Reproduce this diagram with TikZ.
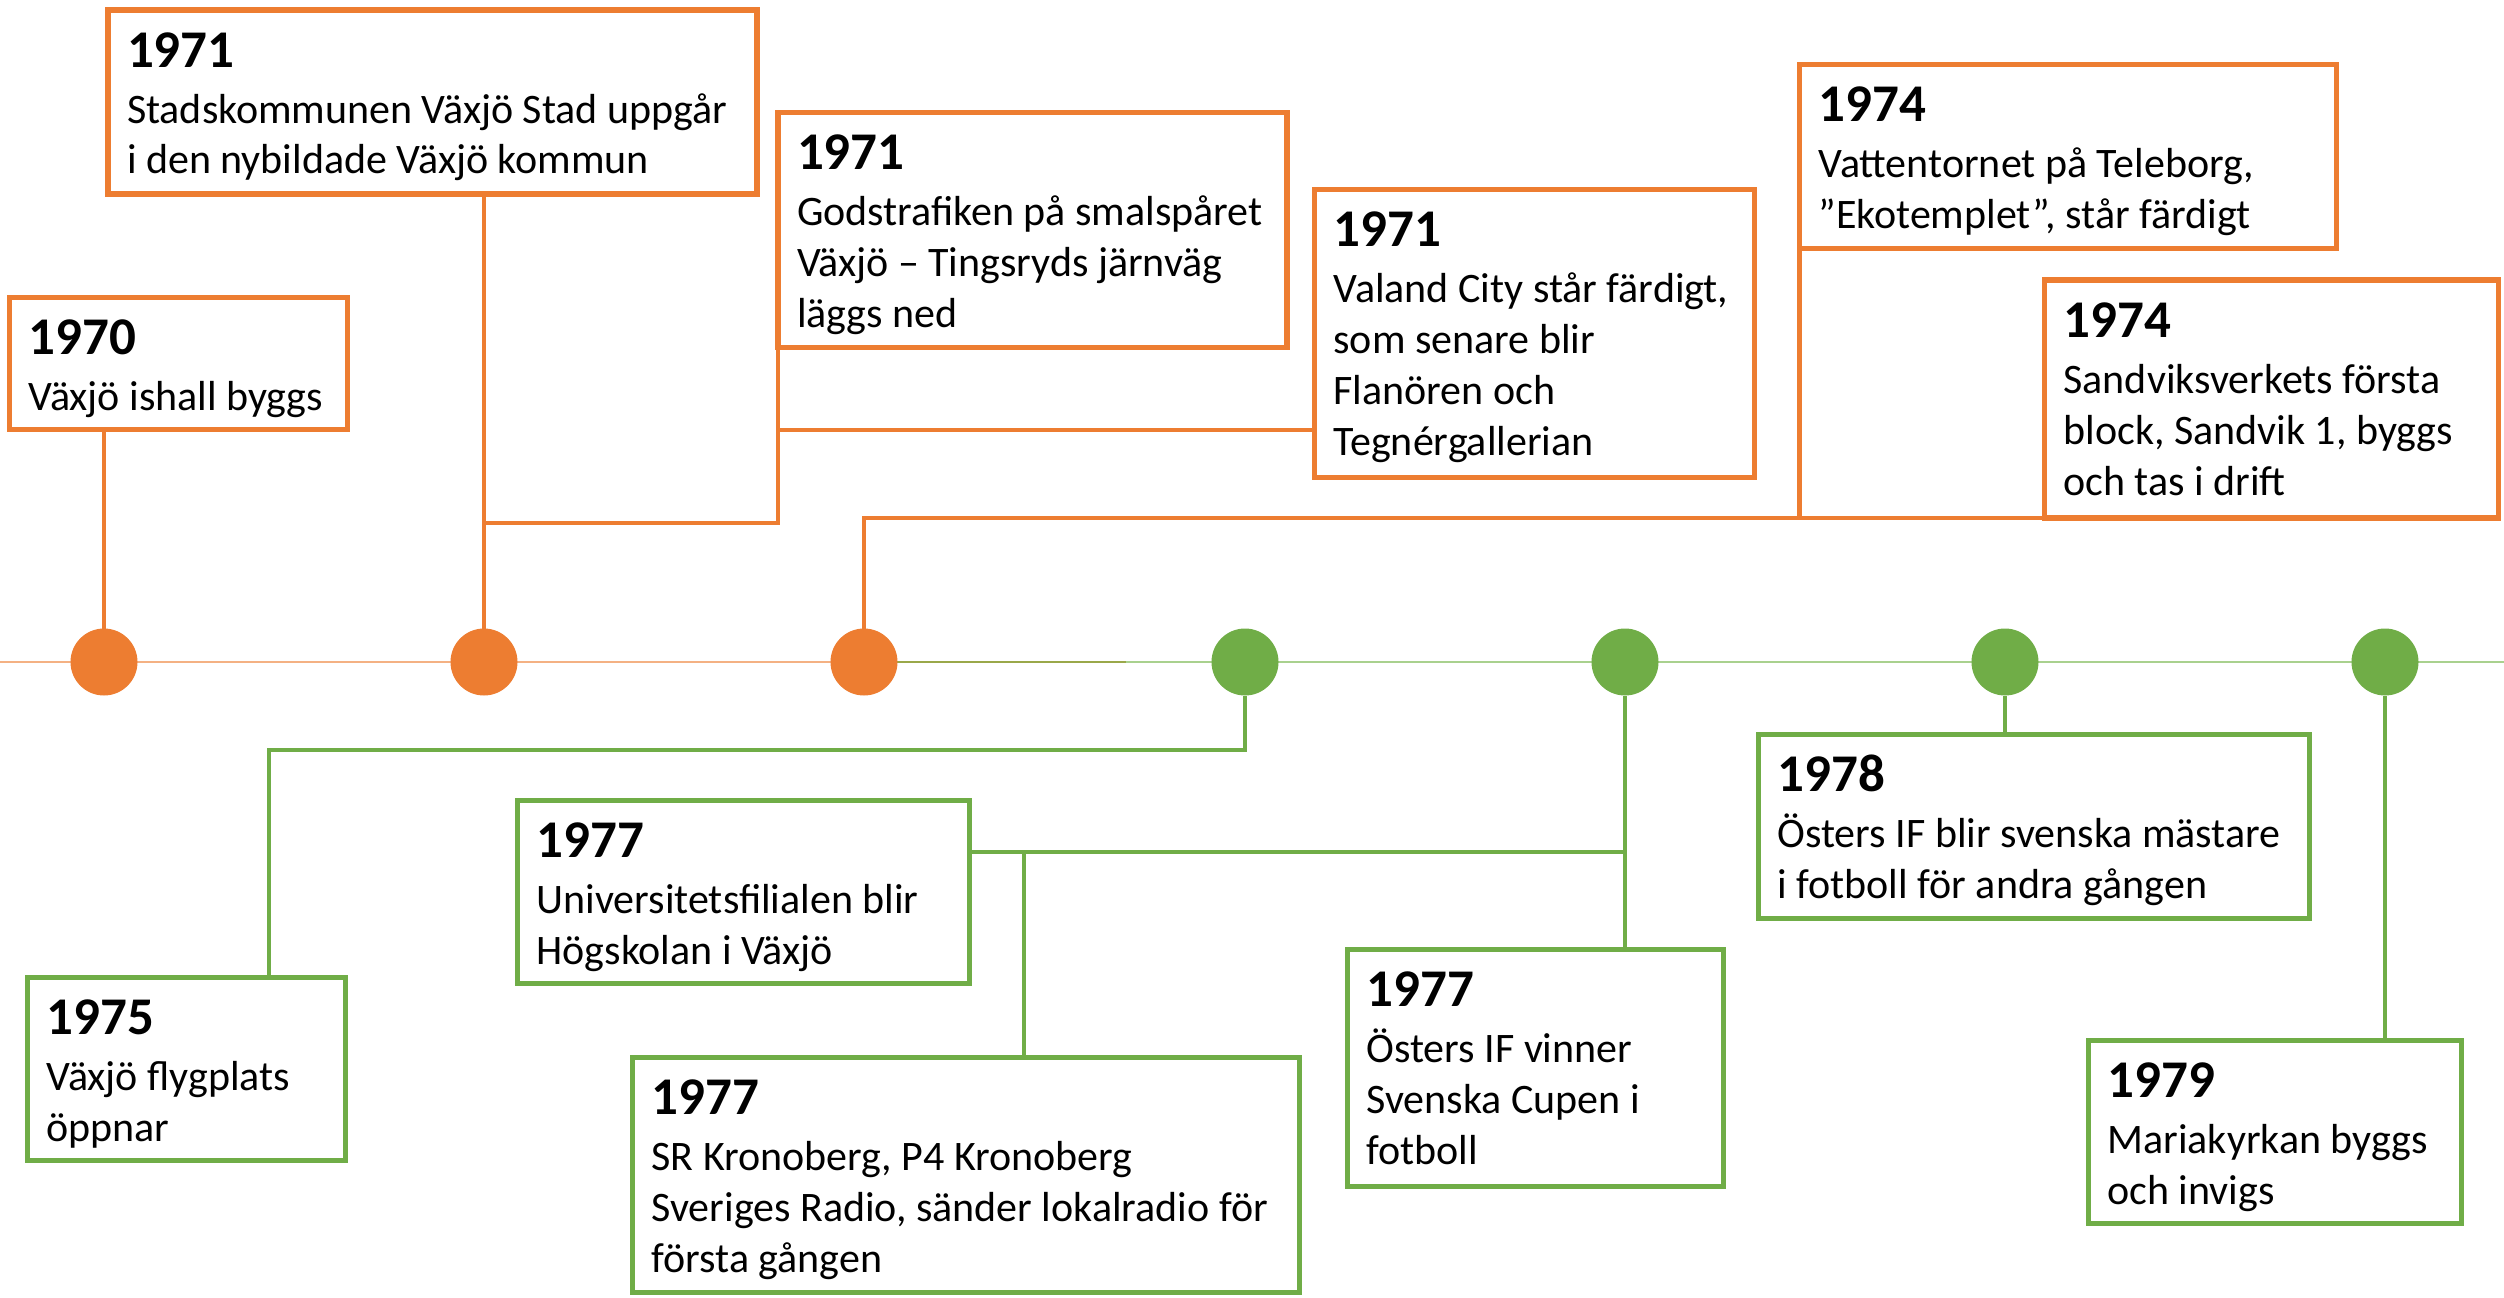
\documentclass[tikz,border=0pt]{standalone}
\usepackage{fontspec}
\setmainfont{Carlito}

\definecolor{vorange}{HTML}{ED7D31}
\definecolor{vgreen}{HTML}{70AD47}
\definecolor{vorangelt}{HTML}{F4B183}
\definecolor{vgreenlt}{HTML}{A9D18E}
\definecolor{volive}{HTML}{9AA84A}

\newcommand{\evyear}[1]{{\fontsize{53}{54}\selectfont\bfseries #1}\\[5pt]}

\tikzset{
  eventbox/.style={draw=#1, line width=5.5pt, fill=white, anchor=north west,
    inner xsep=19pt, inner ysep=0pt, outer sep=0pt, align=left,
    text height=57pt, font={\fontsize{42}{51}\selectfont},
    execute at begin node={\spaceskip=0pt\xspaceskip=0pt\hyphenpenalty=10000}},
  eventdot/.style={circle, fill=#1, minimum size=67pt, inner sep=0pt, outer sep=0pt},
  link/.style={draw=#1, line width=4.5pt},
  timeline/.style={draw=#1, line width=2.5pt}
}

\begin{document}
\begin{tikzpicture}[x=1pt, y=-1pt]
    \useasboundingbox (0,0) rectangle (2504,1298);

    % tidslinjen
    \coordinate (tl-left) at (0,662);
    \coordinate (tl-switch) at (864,662);
    \coordinate (tl-fade) at (1126,662);
    \coordinate (tl-right) at (2504,662);
    \draw[timeline=vorangelt] (tl-left) -- (tl-switch);
    \draw[timeline=volive] (tl-switch) -- (tl-fade);
    \draw[timeline=vgreenlt] (tl-fade) -- (tl-right);

    % punkter
    \node[eventdot=vorange] (d1) at (104,662) {};
    \node[eventdot=vorange] (d2) at (484,662) {};
    \node[eventdot=vorange] (d3) at (864,662) {};
    \node[eventdot=vgreen] (d4) at (1245,662) {};
    \node[eventdot=vgreen] (d5) at (1625,662) {};
    \node[eventdot=vgreen] (d6) at (2005,662) {};
    \node[eventdot=vgreen] (d7) at (2385,662) {};

    % 1970-talets första hälft
    \node[eventbox=vorange, text width=300pt, text depth=75pt] (e1970) at (9.5,297.5)
        {\evyear{1970}Växjö ishall byggs};
    \node[eventbox=vorange, text width=611pt, text depth=127pt] (e1971a) at (108,10)
        {\evyear{1971}Stadskommunen Växjö Stad uppgår\\i den nybildade Växjö kommun};
    \node[eventbox=vorange, text width=471pt, text depth=178pt] (e1971b) at (778,112.5)
        {\evyear{1971}Godstrafiken på smalspåret\\Växjö – Tingsryds järnväg\\läggs ned};
    \node[eventbox=vorange, text width=402pt, text depth=231pt] (e1971c) at (1314.5,189.5)
        {\evyear{1971}Valand City står färdigt,\\som senare blir\\Flanören och\\Tegnérgallerian};
    \node[eventbox=vorange, text width=499pt, text depth=127pt] (e1974a) at (1799.5,64.5)
        {\evyear{1974}Vattentornet på Teleborg,\\”Ekotemplet”, står färdigt};
    \node[eventbox=vorange, text width=416pt, text depth=181pt] (e1974b) at (2044.5,280)
        {\evyear{1974}Sandviksverkets första\\block, Sandvik 1, byggs\\och tas i drift};

    % 1970-talets andra hälft
    \node[eventbox=vgreen, text width=280pt, text depth=126pt] (e1975) at (27.5,977.5)
        {\evyear{1975}Växjö flygplats\\öppnar};
    \node[eventbox=vgreen, text width=414pt, text depth=126pt] (e1977a) at (517.5,800.5)
        {\evyear{1977}Universitetsfilialen blir\\Högskolan i Växjö};
    \node[eventbox=vgreen, text width=629pt, text depth=178pt] (e1977b) at (632.5,1057.5)
        {\evyear{1977}SR Kronoberg, P4 Kronoberg\\Sveriges Radio, sänder lokalradio för\\första gången};
    \node[eventbox=vgreen, text width=338pt, text depth=180pt] (e1977c) at (1347.5,949.5)
        {\evyear{1977}Östers IF vinner\\Svenska Cupen i\\fotboll};
    \node[eventbox=vgreen, text width=513pt, text depth=127pt] (e1978) at (1758.5,734.5)
        {\evyear{1978}Östers IF blir svenska mästare\\i fotboll för andra gången};
    \node[eventbox=vgreen, text width=335pt, text depth=126pt] (e1979) at (2088.5,1040.5)
        {\evyear{1979}Mariakyrkan byggs\\och invigs};

    % förgreningar
    \coordinate (fork71) at (0,523);
    \coordinate (fork71b) at (0,430);
    \coordinate (fork74) at (0,518);
    \coordinate (fork75) at (269,750);
    \coordinate (fork77) at (1024,852);

    % kopplingar ovanför
    \draw[link=vorange] (d1.north) -- (d1 |- e1970.south);
    \draw[link=vorange] (d2.north) -- (d2 |- e1971a.south);
    \draw[link=vorange] (d2 |- fork71) -- (e1971b.west |- fork71) -- (e1971b.south west);
    \draw[link=vorange] (e1971b.west |- fork71b) -- (e1971c.west |- fork71b);
    \draw[link=vorange] (d3.north) -- (d3 |- fork74) -- (e1974b.south west);
    \draw[link=vorange] (e1974a.south west) -- (e1974a.south west |- fork74);

    % kopplingar nedanför
    \draw[link=vgreen] (d4.south) -- (d4 |- fork75) -- (fork75) -- (fork75 |- e1975.north);
    \draw[link=vgreen] (d5.south) -- (d5 |- e1977c.north);
    \draw[link=vgreen] (d5 |- fork77) -- (e1977a.east |- fork77);
    \draw[link=vgreen] (fork77) -- (fork77 |- e1977b.north);
    \draw[link=vgreen] (d6.south) -- (d6 |- e1978.north);
    \draw[link=vgreen] (d7.south) -- (d7 |- e1979.north);
\end{tikzpicture}
\end{document}
